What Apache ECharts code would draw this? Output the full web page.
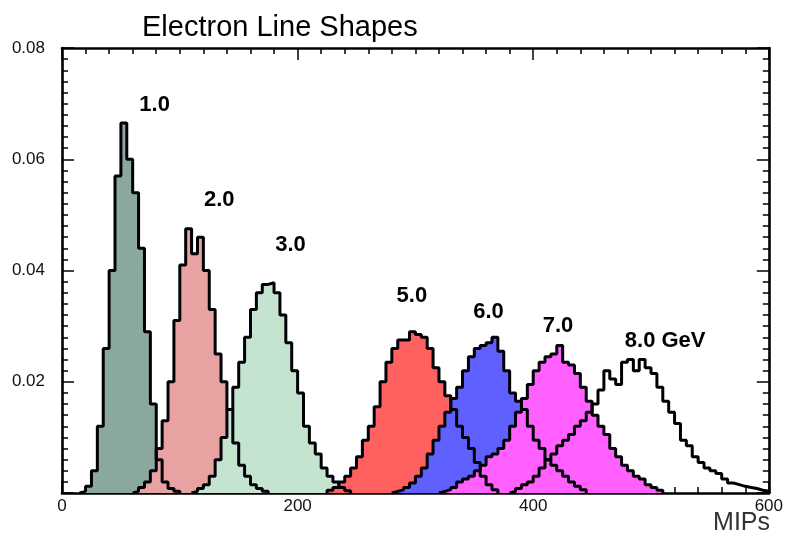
<!DOCTYPE html>
<html><head><meta charset="utf-8">
<script src="https://cdn.jsdelivr.net/npm/echarts@6/dist/echarts.min.js"></script>
<style>html,body{margin:0;padding:0;background:#fff}#c{width:786px;height:538px}</style>
</head><body><div id="c"></div>
<script>
// ---- data ----
const binWidth = 5; // MIPs per bin
const energies = ['1.0', '2.0', '3.0', '5.0', '6.0', '7.0', '8.0 GeV'];
const binStarts = [15, 60, 110, 225, 280, 320, 380];
const e1 = [0.0003, 0.0012, 0.004, 0.012, 0.026, 0.040, 0.057, 0.0665, 0.060, 0.054, 0.044, 0.029, 0.016, 0.006, 0.002, 0.0008, 0.0003];
const e2 = [0.0003, 0.001, 0.002, 0.004, 0.008, 0.013, 0.020, 0.031, 0.041, 0.0475, 0.043, 0.046, 0.040, 0.033, 0.025, 0.020, 0.015, 0.009, 0.005, 0.003, 0.0015, 0.0008, 0.0003];
const e3 = [0.0003, 0.0008, 0.0015, 0.003, 0.006, 0.010, 0.015, 0.019, 0.0235, 0.028, 0.033, 0.036, 0.0375, 0.0378, 0.036, 0.032, 0.027, 0.022, 0.018, 0.012, 0.009, 0.007, 0.0045, 0.003, 0.002, 0.001, 0.0004];
const e5 = [0.0005, 0.001, 0.002, 0.003, 0.0045, 0.0065, 0.0095, 0.012, 0.0155, 0.020, 0.0235, 0.026, 0.0275, 0.0275, 0.029, 0.0285, 0.028, 0.026, 0.0225, 0.020, 0.0175, 0.015, 0.012, 0.010, 0.008, 0.0055, 0.003, 0.0015, 0.0006];
const e6 = [0.0003, 0.0006, 0.001, 0.0018, 0.003, 0.0045, 0.007, 0.0095, 0.012, 0.0145, 0.017, 0.019, 0.022, 0.0245, 0.026, 0.0265, 0.027, 0.028, 0.0255, 0.022, 0.018, 0.0165, 0.015, 0.012, 0.0095, 0.008, 0.006, 0.005, 0.004, 0.003, 0.002, 0.0012, 0.0006];
const e7 = [0.0003, 0.0006, 0.001, 0.002, 0.0025, 0.003, 0.004, 0.005, 0.0065, 0.007, 0.008, 0.0095, 0.012, 0.0145, 0.017, 0.0195, 0.022, 0.0235, 0.0245, 0.025, 0.0265, 0.0235, 0.023, 0.0215, 0.019, 0.0165, 0.014, 0.012, 0.0105, 0.008, 0.0065, 0.005, 0.004, 0.003, 0.0025, 0.0015, 0.001, 0.0005];
const e8 = [0.0003, 0.0008, 0.0015, 0.002, 0.003, 0.0045, 0.006, 0.007, 0.0085, 0.0095, 0.0105, 0.012, 0.013, 0.0145, 0.016, 0.0185, 0.022, 0.0205, 0.0195, 0.0235, 0.024, 0.022, 0.024, 0.0225, 0.0215, 0.019, 0.0165, 0.0145, 0.0125, 0.0095, 0.0085, 0.0065, 0.0055, 0.0045, 0.004, 0.0035, 0.0025, 0.0018, 0.0015, 0.0012, 0.001, 0.0008, 0.0005, 0.0003];
const histValues = [e1, e2, e3, e5, e6, e7, e8];
const xTickValues = [0, 200, 400, 600];
const yTickValues = [0.02, 0.04, 0.06, 0.08];
// annotation anchor points (data units)
const labelX = [78.6, 133.5, 194, 297, 362, 421, 512];
const labelY = [0.0698, 0.0527, 0.0446, 0.0354, 0.0325, 0.0300, 0.0274];

// ---- styles ----
const fills = ['#8aa89e', '#e8a2a2', '#c4e4d0', '#ff6060', '#6060ff', '#ff60ff', null];
const FONT = 'Liberation Sans, Arial, sans-serif';

function histPoints(start, vals) {
  const pts = [[start, 0]];
  vals.forEach((v, i) => pts.push([start + i * binWidth, v]));
  pts.push([start + vals.length * binWidth, 0]);
  return pts;
}

const series = [];
histValues.forEach((vals, k) => {
  const s = {
    type: 'line', name: energies[k], step: 'end', symbol: 'none',
    data: histPoints(binStarts[k], vals),
    lineStyle: { color: '#000', width: 3 },
    silent: true, animation: false, z: 2
  };
  if (fills[k]) s.areaStyle = { color: fills[k], opacity: 1 };
  series.push(s);
});
// faint see-through outlines of each histogram over the later fills
histValues.forEach((vals, k) => {
  if (k === histValues.length - 1) return;
  series.push({
    type: 'line', step: 'end', symbol: 'none',
    data: histPoints(binStarts[k], vals),
    lineStyle: { color: 'rgba(0,0,40,0.6)', width: 1.5, type: [2, 2] },
    silent: true, animation: false, z: 3
  });
});
series.push({
  type: 'scatter', symbolSize: 1, itemStyle: { color: 'rgba(255,255,255,0)' },
  data: energies.map((e, i) => ({ name: e, value: [labelX[i], labelY[i]] })),
  label: { show: true, position: 'inside', formatter: '{b}', fontSize: 22, fontWeight: 'bold', color: '#000', opacity: 1, textBorderWidth: 0, fontFamily: FONT },
  silent: true, animation: false, z: 10
});

function xAxis(pos, showLabel) {
  return {
    type: 'value', position: pos, min: 0, max: 600, interval: 200,
    axisLine: { show: true, onZero: false, lineStyle: { color: '#000', width: 2.6 } },
    axisTick: { show: true, inside: true, length: 12, lineStyle: { color: '#000', width: 1.5 } },
    minorTick: { show: true, splitNumber: 10, length: 6, lineStyle: { color: '#000', width: 1.5 } },
    splitLine: { show: false }, minorSplitLine: { show: false },
    axisLabel: { show: showLabel, fontSize: 17, color: '#111', margin: 5, fontFamily: FONT,
      formatter: v => xTickValues.includes(v) ? String(v) : '' }
  };
}
function yAxis(pos, showLabel) {
  return {
    type: 'value', position: pos, min: 0, max: 0.08, interval: 0.02,
    axisLine: { show: true, onZero: false, lineStyle: { color: '#000', width: 2.6 } },
    axisTick: { show: true, inside: true, length: 12, lineStyle: { color: '#000', width: 1.5 } },
    minorTick: { show: true, splitNumber: 10, length: 6, lineStyle: { color: '#000', width: 1.5 } },
    splitLine: { show: false }, minorSplitLine: { show: false },
    axisLabel: { show: showLabel, fontSize: 17, color: '#111', margin: 17, fontFamily: FONT,
      formatter: v => { const m = yTickValues.find(t => Math.abs(t - v) < 1e-9); return m ? m.toFixed(2) : ''; } }
  };
}

const chart = echarts.init(document.getElementById('c'), null, { renderer: 'canvas' });
chart.setOption({
  animation: false,
  backgroundColor: '#fff',
  title: { text: 'Electron Line Shapes', left: 137, top: 8,
    textStyle: { fontSize: 29, fontWeight: 'normal', color: '#000', fontFamily: FONT } },
  grid: { left: 62, right: 14, top: 48, bottom: 45, containLabel: false },
  xAxis: [xAxis('bottom', true), xAxis('top', false)],
  yAxis: [yAxis('left', true), yAxis('right', false)],
  graphic: [{ type: 'text', right: 16, top: 511, style: { text: 'MIPs', fontSize: 25, fill: '#333', fontFamily: FONT } }],
  series: series
});
</script></body></html>
